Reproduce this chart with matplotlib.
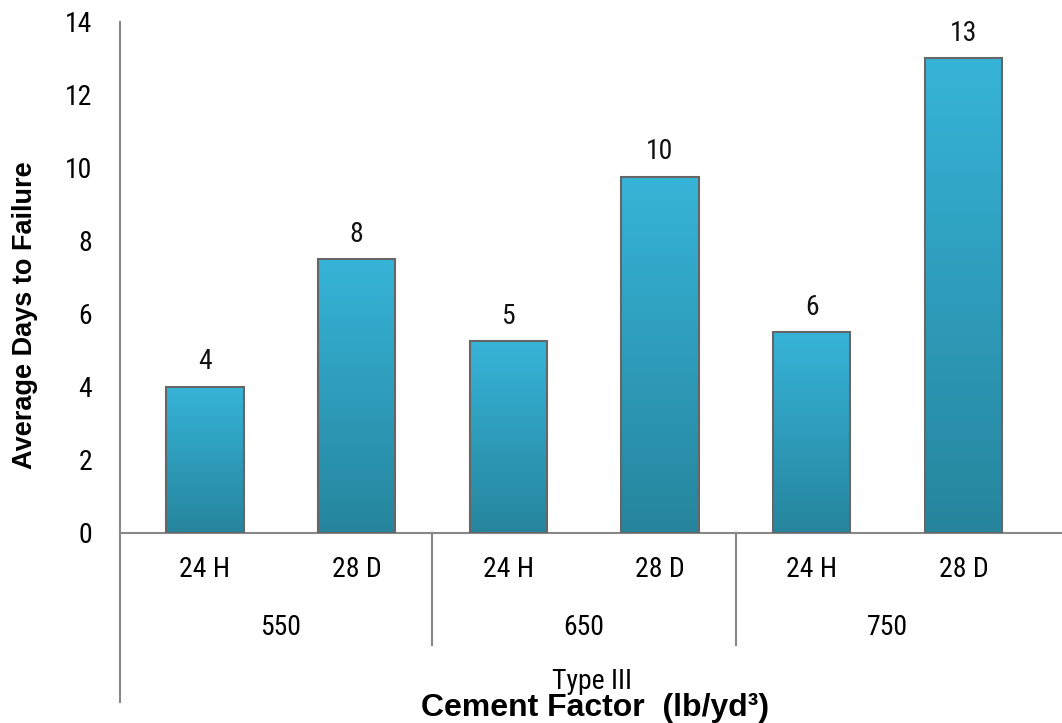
import numpy as np
import matplotlib.pyplot as plt
from matplotlib import font_manager
from matplotlib.colors import LinearSegmentedColormap

# pick a narrow face if one is installed
names = {(f.name, f.stretch) for f in font_manager.fontManager.ttflist}
fam = ['Liberation Sans']
stretch = 'normal'
for n in ['Liberation Sans Narrow', 'Roboto Condensed', 'Open Sans Condensed', 'Arial Narrow']:
    if any(x[0] == n for x in names):
        fam = [n]
        break
else:
    if ('DejaVu Sans', 'condensed') in names or ('DejaVu Sans', 'semi-condensed') in names:
        fam = ['DejaVu Sans']
        stretch = 'condensed'
plt.rcParams['font.family'] = fam + ['DejaVu Sans']
plt.rcParams['font.stretch'] = stretch
fs = 20 if fam[0] != 'Liberation Sans' else 17
wide = ['Liberation Sans', 'DejaVu Sans']

# data
ages = ['24 H', '28 D', '24 H', '28 D', '24 H', '28 D']
cement = ['550', '650', '750']
days = [4.0, 7.5, 5.25, 9.75, 5.5, 13.0]
labels = ['4', '8', '5', '10', '6', '13']

fig = plt.figure(figsize=(10.62, 7.23), dpi=100)
ax = fig.add_axes([0.113, 0.2628, 0.887, 0.7068])

xs = np.arange(len(days))
bars = ax.bar(xs, days, width=0.51, color='none', edgecolor='#666666', linewidth=1.5, zorder=3)

cmap = LinearSegmentedColormap.from_list('blu', ['#26859D', '#36B4D8'])
grad = np.linspace(0, 1, 256).reshape(-1, 1)
for b in bars:
    x0 = b.get_x()
    im = ax.imshow(grad, cmap=cmap, origin='lower', aspect='auto',
                   extent=(x0, x0 + b.get_width(), 0, b.get_height()), zorder=2)
    im.set_clip_path(b)

for x, v, t in zip(xs, days, labels):
    ax.text(x, v + 0.32, t, ha='center', va='bottom', fontsize=fs, color='#111111')

ax.set_xlim(-0.56, 5.65)
ax.set_ylim(0, 14)
ax.set_yticks(range(0, 15, 2))
ax.tick_params(axis='y', length=0, pad=20, labelsize=fs)
ax.set_xticks([])
for s in ['top', 'right']:
    ax.spines[s].set_visible(False)
ax.spines['left'].set_color('#888888')
ax.spines['bottom'].set_color('#888888')
ax.spines['left'].set_linewidth(1.5)
ax.spines['bottom'].set_linewidth(1.5)

tr = ax.get_xaxis_transform()
# category labels and group labels
for x, t in zip(xs, ages):
    ax.text(x, -0.072, t, transform=tr, ha='center', va='center', fontsize=fs)
for i, g in enumerate(cement):
    ax.text(2 * i + 0.5, -0.184, g, transform=tr, ha='center', va='center', fontsize=fs)

# group separator lines
ax.plot([-0.56, -0.56], [0, -0.331], transform=tr, color='#888888', lw=1.5, clip_on=False)
for sx in [1.5, 3.5]:
    ax.plot([sx, sx], [0, -0.219], transform=tr, color='#888888', lw=1.5, clip_on=False)

ax.text(2.55, -0.29, 'Type III', transform=tr, ha='center', va='center', fontsize=fs)
ax.text(2.57, -0.343, 'Cement Factor  (lb/yd³)', transform=tr, ha='center', va='center',
        fontsize=23, fontweight='bold', family=wide)

fig.text(0.024, 0.564, 'Average Days to Failure', rotation=90, ha='center', va='center',
         fontsize=19.5, fontweight='bold', family=wide)

fig.savefig('out.png', dpi=100)
